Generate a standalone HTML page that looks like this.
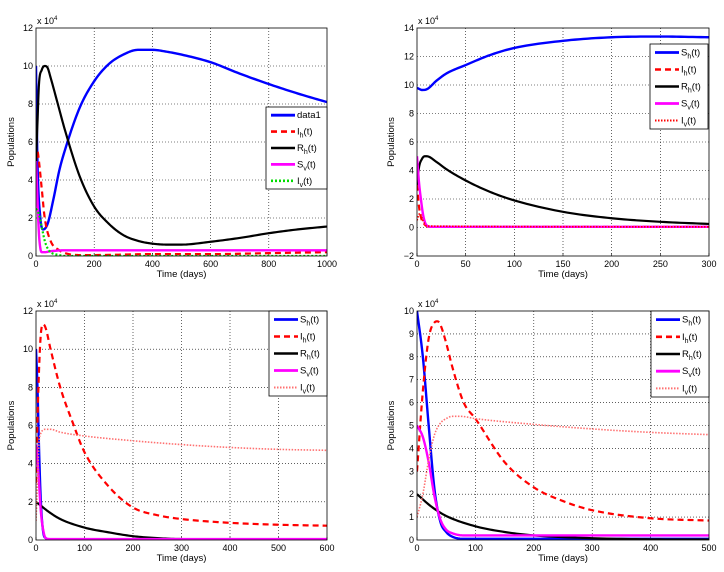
<!DOCTYPE html>
<html><head><meta charset="utf-8">
<style>
html,body{margin:0;padding:0;background:#fff;}
svg{display:block;font-family:"Liberation Sans",sans-serif;}
</style></head>
<body>
<svg id="fig" width="724" height="572" viewBox="0 0 724 572" xmlns="http://www.w3.org/2000/svg"></svg>
<script>
// ---------- data (values in units of 1e4) ----------
// Panel 1
const p1_sh_t=[0,5,15,25,40,60,80,100,150,200,250,300,350,400,450,500,600,700,800,900,1000];
const p1_sh_v=[10,5,2,1.4,1.7,3,4.5,5.6,7.8,9.2,10.1,10.6,10.85,10.85,10.75,10.6,10.2,9.6,9.05,8.55,8.1];
const p1_ih_t=[0,5,10,20,30,50,80,100,150,200,400,600,800,1000];
const p1_ih_v=[5,5.5,5,3.5,2,0.8,0.3,0.15,0.05,0.05,0.1,0.1,0.15,0.2];
const p1_rh_t=[0,5,10,20,30,40,50,75,100,150,200,250,300,350,400,450,500,600,700,800,900,1000];
const p1_rh_v=[5,7,9,9.8,10,9.9,9.4,8.0,6.6,4.2,2.6,1.7,1.1,0.8,0.65,0.6,0.6,0.75,0.95,1.2,1.4,1.55];
const p1_sv_t=[0,5,10,15,20,30,50,100,1000];
const p1_sv_v=[5,3,1.2,0.4,0.2,0.2,0.25,0.3,0.3];
const p1_iv_t=[0,10,20,30,40,50,80,100,1000];
const p1_iv_v=[2.5,2.2,1.5,0.8,0.4,0.2,0.05,0,0];
// Panel 2
const p2_sh_t=[0,3,5,10,20,30,50,75,100,150,200,250,300];
const p2_sh_v=[9.8,9.7,9.65,9.7,10.3,10.8,11.4,12.1,12.6,13.1,13.35,13.4,13.35];
const p2_ih_t=[0,2,5,8,12,300];
const p2_ih_v=[3,1.5,0.5,0.2,0.05,0.05];
const p2_rh_t=[0,2,5,8,10,20,30,50,75,100,150,200,250,300];
const p2_rh_v=[3,4.2,4.8,5,5,4.6,4.1,3.3,2.5,1.9,1.1,0.65,0.4,0.25];
const p2_sv_t=[0,2,4,6,8,10,15,300];
const p2_sv_v=[5,3.2,2,1,0.4,0.15,0.05,0.05];
const p2_iv_t=[0,3,6,10,300];
const p2_iv_v=[0.5,1,0.5,0.1,0.05];
// Panel 3
const p3_sh_t=[0,3,6,10,15,20,30,600];
const p3_sh_v=[10,8,5,2,0.4,0.1,0,0];
const p3_ih_t=[0,5,10,15,20,30,50,75,100,150,200,250,300,400,500,600];
const p3_ih_v=[3,8,10.8,11.3,11.1,10,8,6.2,4.6,2.8,1.7,1.3,1.1,0.9,0.8,0.75];
const p3_rh_t=[0,10,25,50,100,150,200,250,300,600];
const p3_rh_v=[2,1.8,1.5,1.1,0.65,0.4,0.2,0.1,0.05,0.02];
const p3_sv_t=[0,5,10,15,20,30,600];
const p3_sv_v=[5,3.5,1.5,0.5,0.1,0.05,0.05];
const p3_iv_t=[0,3,6,10,20,30,50,100,200,300,400,500,600];
const p3_iv_v=[1,3,5,5.6,5.8,5.8,5.65,5.45,5.2,5.0,4.85,4.75,4.7];
// Panel 4
const p4_sh_t=[0,10,20,30,40,50,60,80,100,200,500];
const p4_sh_v=[10,8,5,2.2,0.8,0.35,0.15,0.05,0.05,0.05,0.05];
const p4_ih_t=[0,10,20,30,35,40,50,60,80,100,150,200,250,300,400,500];
const p4_ih_v=[3,6.5,8.8,9.5,9.55,9.4,8.6,7.6,6.0,5.3,3.4,2.3,1.7,1.3,0.95,0.85];
const p4_rh_t=[0,25,50,100,150,200,300,400,500];
const p4_rh_v=[2,1.45,1.05,0.6,0.35,0.2,0.08,0.03,0.02];
const p4_sv_t=[0,10,20,30,40,50,60,80,100,200,500];
const p4_sv_v=[5,4.5,3.4,1.9,0.9,0.45,0.3,0.2,0.2,0.2,0.2];
const p4_iv_t=[0,10,20,30,40,50,60,75,100,200,300,400,500];
const p4_iv_v=[1,2,3.5,4.6,5.1,5.3,5.4,5.4,5.3,5.05,4.85,4.7,4.6];

const p1_xticks=[0,200,400,600,800,1000], p1_yticks=[0,2,4,6,8,10,12];
const p2_xticks=[0,50,100,150,200,250,300], p2_yticks=[-2,0,2,4,6,8,10,12,14];
const p3_xticks=[0,100,200,300,400,500,600], p3_yticks=[0,2,4,6,8,10,12];
const p4_xticks=[0,100,200,300,400,500], p4_yticks=[0,1,2,3,4,5,6,7,8,9,10];

const legend1=["data1","I|h","R|h","S|v","I|v"];
const legend2=["S|h","I|h","R|h","S|v","I|v"];

const NS="http://www.w3.org/2000/svg";
const svg=document.getElementById('fig');
function mk(tag,attrs,parent){const e=document.createElementNS(NS,tag);for(const k in attrs)e.setAttribute(k,attrs[k]);(parent||svg).appendChild(e);return e;}

// monotone cubic interpolation (Fritsch-Carlson)
function monotone(xs,ys){
 const n=xs.length;const d=[],m=new Array(n);
 for(let i=0;i<n-1;i++)d.push((ys[i+1]-ys[i])/(xs[i+1]-xs[i]));
 m[0]=d[0];m[n-1]=d[n-2];
 for(let i=1;i<n-1;i++){m[i]=(d[i-1]*d[i]<=0)?0:(d[i-1]+d[i])/2;}
 for(let i=0;i<n-1;i++){
  if(d[i]===0){m[i]=0;m[i+1]=0;continue;}
  const a=m[i]/d[i],b=m[i+1]/d[i],s=a*a+b*b;
  if(s>9){const t=3/Math.sqrt(s);m[i]=t*a*d[i];m[i+1]=t*b*d[i];}
 }
 const out=[];
 for(let i=0;i<n-1;i++){
  const h=xs[i+1]-xs[i];const N=12;
  for(let k=0;k<N;k++){
   const t=k/N,t2=t*t,t3=t2*t;
   const y=(2*t3-3*t2+1)*ys[i]+(t3-2*t2+t)*h*m[i]+(-2*t3+3*t2)*ys[i+1]+(t3-t2)*h*m[i+1];
   out.push([xs[i]+t*h,y]);
  }
 }
 out.push([xs[n-1],ys[n-1]]);
 return out;
}

const STY={
 blue:{stroke:"#0000ff",w:2.4,dash:""},
 reddash:{stroke:"#ff0000",w:2.2,dash:"6,4"},
 black:{stroke:"#000000",w:2.2,dash:""},
 mag:{stroke:"#ff00ff",w:2.4,dash:""},
 green:{stroke:"#00dd00",w:2.2,dash:"2,2"},
 reddot:{stroke:"#ff0000",w:1.6,dash:"1.5,1.5"},
 pinkdot:{stroke:"#ff7070",w:1.6,dash:"1.5,1.5"}
};

function panel(id,box,xmax,ymin,ymax,xticks,yticks,series,legendLabels,lbox,ylabX){
 const [L,T,R,B]=box;
 const g=mk('g',{});
 
 
 const X=t=>L+(t/xmax)*(R-L);
 const Y=v=>B-(v-ymin)/(ymax-ymin)*(B-T);
 xticks.forEach(t=>{
  if(t>0&&t<xmax){const l=mk('line',{x1:X(t),x2:X(t),y1:T,y2:B,stroke:"#000","stroke-width":0.6,"stroke-dasharray":"1,2"},g);
  }
  mk('line',{x1:X(t),x2:X(t),y1:B,y2:B-3,stroke:"#000","stroke-width":0.6},g);
  const tx=mk('text',{x:X(t),y:B+11,"font-size":9,"text-anchor":"middle",fill:"#000"},g);
  tx.textContent=t;
  
 });
 yticks.forEach(v=>{
  if(v>ymin&&v<ymax){const l=mk('line',{x1:L,x2:R,y1:Y(v),y2:Y(v),stroke:"#000","stroke-width":0.6,"stroke-dasharray":"1,2"},g);
  }
  const tx=mk('text',{x:L-3,y:Y(v)+3,"font-size":9,"text-anchor":"end",fill:"#000"},g);
  tx.textContent=(v<0?"\u2212"+(-v):v);
  
 });
 const clipId='clip-'+id;
 const cp=mk('clipPath',{id:clipId},g);mk('rect',{x:L,y:T,width:R-L,height:B-T},cp);
 series.forEach(s=>{
  const st=STY[s.style];
  const pts=monotone(s.t,s.v).map(p=>X(p[0]).toFixed(2)+","+Y(p[1]).toFixed(2)).join(" ");
  const p=mk('polyline',{points:pts,fill:"none",stroke:st.stroke,"stroke-width":st.w,"stroke-dasharray":st.dash,"stroke-linejoin":"round","clip-path":"url(#"+clipId+")"},g);
  
  
 });
 const fr=mk('rect',{x:L,y:T,width:R-L,height:B-T,fill:"none",stroke:"#000","stroke-width":0.8},g);
 
 const ex=mk('text',{x:L+1,y:T-4,"font-size":9,fill:"#000"},g);
 ex.textContent="x 10";
 const sup=mk('tspan',{"font-size":6,dy:-4},ex);sup.textContent="4";
 
 const xl=mk('text',{x:(L+R)/2,y:B+21,"font-size":9.5,"text-anchor":"middle",fill:"#000"},g);
 xl.textContent="Time (days)";
 
 const ym=(T+B)/2;
 const yl=mk('text',{x:ylabX,y:ym,"font-size":9.5,"text-anchor":"middle",fill:"#000",transform:"rotate(-90 "+ylabX+" "+ym+")"},g);
 yl.textContent="Populations";
 
 const [lx,ly,lr,lb]=lbox;
 const lg=mk('g',{},g);
 
 mk('rect',{x:lx,y:ly,width:lr-lx,height:lb-ly,fill:"#fff",stroke:"#000","stroke-width":0.8},lg);
 const step=(lb-ly)/5;
 series.forEach((s,i)=>{
  const st=STY[s.style];
  const yy=ly+step*(i+0.5);
  const e=mk('g',{},lg);
  
  
  mk('line',{x1:lx+5,x2:lx+29,y1:yy,y2:yy,stroke:st.stroke,"stroke-width":st.w+0.4,"stroke-dasharray":st.dash},e);
  const tx=mk('text',{x:lx+31,y:yy+3,"font-size":9.5,fill:"#000"},e);
  const lab=legendLabels[i];
  if(lab.indexOf('|')>=0){
   const [a,b]=lab.split('|');
   tx.appendChild(document.createTextNode(a));
   const sb=mk('tspan',{"font-size":7,dy:3},tx);sb.textContent=b;
   const rest=mk('tspan',{dy:-3},tx);rest.textContent="(t)";
  } else tx.textContent=lab;
 });
}

panel('panel-top-left',[36,28,327,256],1000,0,12,p1_xticks,p1_yticks,[
 {name:'series-sh',style:'blue',t:p1_sh_t,v:p1_sh_v},
 {name:'series-ih',style:'reddash',t:p1_ih_t,v:p1_ih_v},
 {name:'series-rh',style:'black',t:p1_rh_t,v:p1_rh_v},
 {name:'series-sv',style:'mag',t:p1_sv_t,v:p1_sv_v},
 {name:'series-iv',style:'green',t:p1_iv_t,v:p1_iv_v}],legend1,[266,107,327,189],14);

panel('panel-top-right',[417,28,709,256],300,-2,14,p2_xticks,p2_yticks,[
 {name:'series-sh',style:'blue',t:p2_sh_t,v:p2_sh_v},
 {name:'series-ih',style:'reddash',t:p2_ih_t,v:p2_ih_v},
 {name:'series-rh',style:'black',t:p2_rh_t,v:p2_rh_v},
 {name:'series-sv',style:'mag',t:p2_sv_t,v:p2_sv_v},
 {name:'series-iv',style:'reddot',t:p2_iv_t,v:p2_iv_v}],legend2,[650,44,708,129],394);

panel('panel-bottom-left',[36,311,327,540],600,0,12,p3_xticks,p3_yticks,[
 {name:'series-sh',style:'blue',t:p3_sh_t,v:p3_sh_v},
 {name:'series-ih',style:'reddash',t:p3_ih_t,v:p3_ih_v},
 {name:'series-rh',style:'black',t:p3_rh_t,v:p3_rh_v},
 {name:'series-sv',style:'mag',t:p3_sv_t,v:p3_sv_v},
 {name:'series-iv',style:'pinkdot',t:p3_iv_t,v:p3_iv_v}],legend2,[269,311,327,396],14);

panel('panel-bottom-right',[417,311,709,540],500,0,10,p4_xticks,p4_yticks,[
 {name:'series-sh',style:'blue',t:p4_sh_t,v:p4_sh_v},
 {name:'series-ih',style:'reddash',t:p4_ih_t,v:p4_ih_v},
 {name:'series-rh',style:'black',t:p4_rh_t,v:p4_rh_v},
 {name:'series-sv',style:'mag',t:p4_sv_t,v:p4_sv_v},
 {name:'series-iv',style:'pinkdot',t:p4_iv_t,v:p4_iv_v}],legend2,[651,311,709,397],394);
</script>
</body></html>
